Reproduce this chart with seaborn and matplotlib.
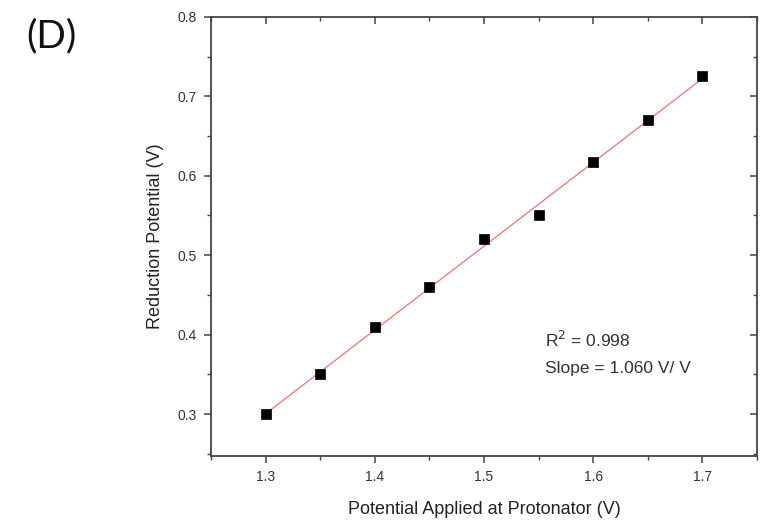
import numpy as np
import pandas as pd
import matplotlib
matplotlib.use("Agg")
import matplotlib.pyplot as plt
from matplotlib.ticker import MultipleLocator
import seaborn as sns

# Measured points
applied_potential = [1.30, 1.35, 1.40, 1.45, 1.50, 1.55, 1.60, 1.65, 1.70]
reduction_potential = [0.300, 0.350, 0.410, 0.460, 0.520, 0.550, 0.617, 0.670, 0.725]

r_squared = "0.998"
slope_text = "1.060"

x_ticks = [1.3, 1.4, 1.5, 1.6, 1.7]
y_ticks = [0.3, 0.4, 0.5, 0.6, 0.7, 0.8]

df = pd.DataFrame({"applied": applied_potential, "reduction": reduction_potential})

sns.set_theme(style="ticks")
plt.rcParams["font.family"] = ["Liberation Sans", "DejaVu Sans"]

fig = plt.figure(figsize=(7.67, 5.25), dpi=100)
ax = fig.add_axes([0.275, 0.131, 0.712, 0.837])

# Linear fit drawn through the data range
sns.regplot(data=df, x="applied", y="reduction", ax=ax, scatter=False, ci=None,
            truncate=True, line_kws={"color": "#e88080", "lw": 1.0, "zorder": 2})
sns.scatterplot(data=df, x="applied", y="reduction", ax=ax, marker="s", s=56,
                color="black", edgecolor="black", linewidth=0.5, zorder=3)

ax.set_xlim(1.25, 1.75)
ax.set_ylim(0.247, 0.80)
ax.set_xticks(x_ticks)
ax.set_yticks(y_ticks)
ax.set_xticklabels([f"{v:.1f}" for v in x_ticks])
ax.set_yticklabels([f"{v:.1f}" for v in y_ticks])
ax.xaxis.set_minor_locator(MultipleLocator(0.05))
ax.yaxis.set_minor_locator(MultipleLocator(0.05))

spine_color = "#444444"
for side in ["left", "right", "top", "bottom"]:
    ax.spines[side].set_visible(True)
    ax.spines[side].set_color(spine_color)
    ax.spines[side].set_linewidth(1.3)

ax.tick_params(axis="both", which="major", direction="out", length=5, width=1.1,
               color=spine_color, labelsize=10, labelcolor="#333333", pad=5)
ax.tick_params(axis="both", which="minor", direction="out", length=3, width=1.0,
               color=spine_color)

# Mirror ticks on the top and right spines, pointing inward
ax_top = ax.secondary_xaxis("top")
ax_top.set_xticks(x_ticks)
ax_top.xaxis.set_minor_locator(MultipleLocator(0.05))
ax_top.tick_params(which="major", direction="in", length=5, width=1.1, color=spine_color, labeltop=False)
ax_top.tick_params(which="minor", direction="in", length=3, width=1.0, color=spine_color)
ax_top.spines["top"].set_visible(False)
ax_right = ax.secondary_yaxis("right")
ax_right.set_yticks(y_ticks)
ax_right.yaxis.set_minor_locator(MultipleLocator(0.05))
ax_right.tick_params(which="major", direction="in", length=5, width=1.1, color=spine_color, labelright=False)
ax_right.tick_params(which="minor", direction="in", length=3, width=1.0, color=spine_color)
ax_right.spines["right"].set_visible(False)

ax.set_xlabel("Potential Applied at Protonator (V)", fontsize=13, color="#222222", labelpad=12)
ax.set_ylabel("Reduction Potential (V)", fontsize=13, color="#222222", labelpad=10)

ax.text(1.556, 0.393, f"R$^2$ = {r_squared}", fontsize=12.5, color="#333333",
        va="center", ha="left")
ax.text(1.556, 0.358, f"Slope = {slope_text} V/ V", fontsize=12.5, color="#333333",
        va="center", ha="left")

fig.text(0.034, 0.931, "(D)", fontsize=28, family=["Lato", "DejaVu Sans"],
         color="#111111", va="center", ha="left")

fig.savefig("out.png", dpi=100, facecolor="white")
